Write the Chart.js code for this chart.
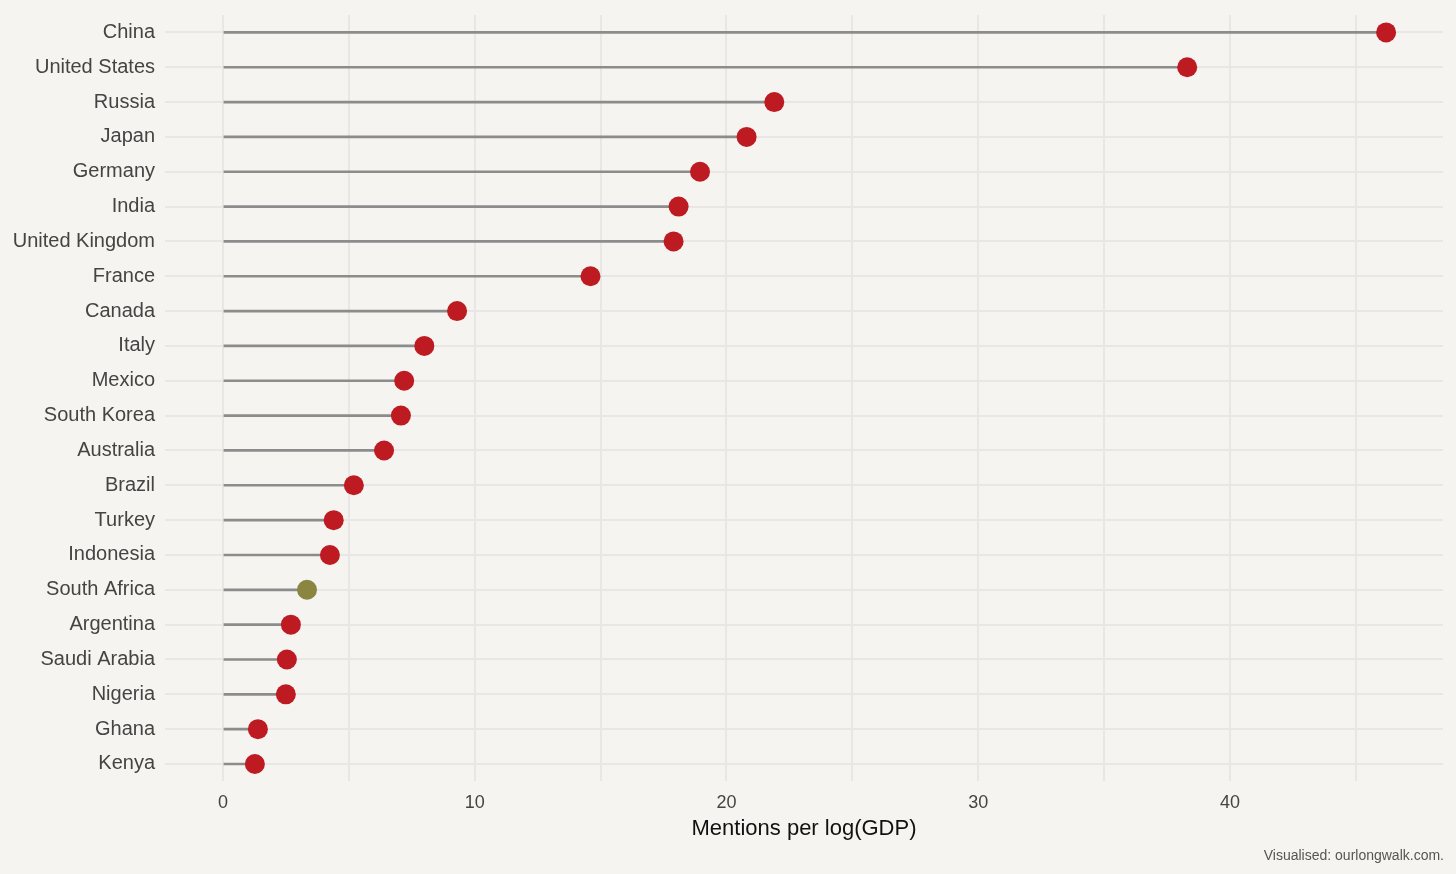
<!DOCTYPE html>
<html>
<head>
<meta charset="utf-8">
<script src="https://cdn.jsdelivr.net/npm/chart.js@4"></script>
<style>
  html, body { margin: 0; padding: 0; background: #f5f4f0; }
  #wrap { position: relative; width: 1456px; height: 874px; }
  #caption {
    position: absolute; right: 12px; bottom: 11px;
    font-family: "Liberation Sans", Arial, sans-serif; font-size: 14px; color: #555;
  }
</style>
</head>
<body>
<div id="wrap">
  <canvas id="chart" width="1456" height="874"></canvas>
  <div id="caption">Visualised: ourlongwalk.com.</div>
</div>
<script>
const countries = ['China', 'United States', 'Russia', 'Japan', 'Germany', 'India', 'United Kingdom',
    'France', 'Canada', 'Italy', 'Mexico', 'South Korea', 'Australia', 'Brazil', 'Turkey',
    'Indonesia', 'South Africa', 'Argentina', 'Saudi Arabia', 'Nigeria', 'Ghana', 'Kenya'];
const mentions = [46.2, 38.3, 21.9, 20.8, 18.95, 18.1, 17.9, 14.6, 9.3, 8.0, 7.2, 7.07, 6.4,
    5.2, 4.4, 4.25, 3.34, 2.7, 2.54, 2.5, 1.39, 1.27];
const highlighted = ['South Africa'];
const gridValues = [0, 5, 10, 15, 20, 25, 30, 35, 40, 45];
const tickLabels = [0, 10, 20, 30, 40];

const red = '#bd1a22';
const olive = '#8a8540';
const dotColors = countries.map(c => highlighted.includes(c) ? olive : red);
const font = "'Liberation Sans', Arial, sans-serif";

new Chart(document.getElementById('chart'), {
    data: {
        labels: countries,
        datasets: [
            {
                type: 'line',
                data: mentions,
                showLine: false,
                pointRadius: 10,
                pointHoverRadius: 10,
                pointBackgroundColor: dotColors,
                pointBorderColor: dotColors,
                pointBorderWidth: 0
            },
            {
                type: 'bar',
                data: mentions,
                backgroundColor: '#8c8c8c',
                barThickness: 2
            }
        ]
    },
    options: {
        indexAxis: 'y',
        responsive: false,
        animation: false,
        layout: { padding: { top: 15, right: 13, bottom: 30, left: 0 } },
        plugins: {
            legend: { display: false },
            tooltip: { enabled: false }
        },
        scales: {
            x: {
                type: 'linear',
                min: -2.3,
                max: 48.46,
                afterBuildTicks: scale => {
                    scale.ticks = gridValues.map(v => ({ value: v }));
                },
                afterFit: scale => { scale.height = 62.6; },
                grid: { color: '#e8e7e6', lineWidth: 2, drawTicks: false },
                border: { display: false },
                ticks: {
                    padding: 11,
                    color: '#444',
                    font: { family: font, size: 18 },
                    maxRotation: 0,
                    autoSkip: false,
                    callback: v => tickLabels.includes(v) ? String(v) : ''
                },
                title: {
                    display: true,
                    text: 'Mentions per log(GDP)',
                    color: '#111',
                    font: { family: font, size: 22 },
                    padding: { top: 4, bottom: 2 }
                }
            },
            y: {
                type: 'category',
                offset: true,
                afterFit: scale => {
                    scale.width = 165;
                    scale.paddingTop = 0;
                    scale.paddingBottom = 0;
                },
                grid: { color: '#e8e7e6', lineWidth: 2, drawTicks: false, offset: false },
                border: { display: false },
                ticks: {
                    padding: 10,
                    color: '#444',
                    font: { family: font, size: 20 },
                    autoSkip: false
                }
            }
        }
    }
});
</script>
</body>
</html>
